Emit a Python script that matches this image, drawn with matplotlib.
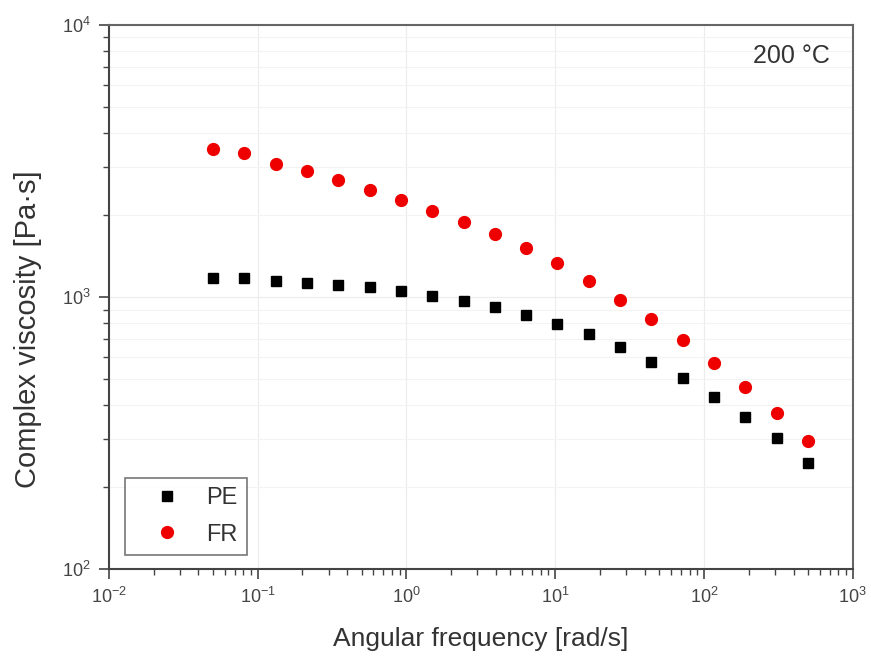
import numpy as np
import matplotlib.pyplot as plt
from matplotlib.ticker import LogLocator, NullFormatter

plt.rcParams['font.family'] = ['Liberation Sans', 'DejaVu Sans']
plt.rcParams['mathtext.fontset'] = 'custom'
plt.rcParams['mathtext.rm'] = 'Liberation Sans'
plt.rcParams['mathtext.it'] = 'Liberation Sans:italic'
plt.rcParams['mathtext.bf'] = 'Liberation Sans:bold'

# angular frequency [rad/s]
freq = [0.05, 0.081, 0.132, 0.214, 0.348, 0.565, 0.917, 1.49, 2.42, 3.93,
        6.37, 10.35, 16.8, 27.3, 44.3, 71.9, 117, 190, 308, 500]

# complex viscosity [Pa s]
pe = [1175, 1175, 1145, 1125, 1107, 1088, 1052, 1009, 967, 919,
      859, 796, 732, 655, 577, 504, 429, 362, 303, 245]
fr = [3500, 3383, 3081, 2906, 2692, 2473, 2273, 2071, 1888, 1706,
      1515, 1334, 1145, 975, 830, 695, 572, 467, 375, 296]

fig = plt.figure(figsize=(8.71, 6.58), dpi=100)
ax = fig.add_axes([0.125, 0.135, 0.854, 0.827])

ax.plot(freq, pe, 's', color='black', ms=7.5, label='PE', linestyle='none')
ax.plot(freq, fr, 'o', color='#ee0000', ms=8.5, label='FR', linestyle='none')

ax.set_xscale('log')
ax.set_yscale('log')
ax.set_xlim(1e-2, 1e3)
ax.set_ylim(1e2, 1e4)

ax.xaxis.set_minor_locator(LogLocator(base=10, subs=np.arange(2, 10)))
ax.yaxis.set_minor_locator(LogLocator(base=10, subs=np.arange(2, 10)))
ax.xaxis.set_minor_formatter(NullFormatter())
ax.yaxis.set_minor_formatter(NullFormatter())

ax.grid(True, which='major', color='#ececec', lw=0.8)
ax.grid(True, which='minor', axis='y', color='#f3f3f3', lw=0.8)
ax.set_axisbelow(True)

ax.tick_params(which='both', direction='out', top=False, right=False,
               labelsize=13, colors='#444444', labelcolor='#444444')
ax.tick_params(which='major', length=7, width=1.2, pad=6)
ax.tick_params(which='minor', length=4, width=1.0)

for s in ['left', 'bottom']:
    ax.spines[s].set_linewidth(1.5)
    ax.spines[s].set_color('#444444')
for s in ['top', 'right']:
    ax.spines[s].set_linewidth(1.5)
    ax.spines[s].set_color('#666666')

ax.set_xlabel('Angular frequency [rad/s]', fontsize=19, color='#333333', labelpad=14)
ax.set_ylabel('Complex viscosity [Pa·s]', fontsize=21, color='#333333')
ax.yaxis.set_label_coords(-0.09, 0.441)

ax.text(0.969, 0.943, '200 °C', transform=ax.transAxes, ha='right', va='center',
        fontsize=18, color='#333333')

leg = ax.legend(loc='lower left', fontsize=17, frameon=True, fancybox=False,
                edgecolor='#555555', borderpad=0.4, handletextpad=0.3,
                labelspacing=0.6, borderaxespad=0, handlelength=2.75,
                bbox_to_anchor=(0.0215, 0.026))
leg.get_frame().set_linewidth(1.2)
for t in leg.get_texts():
    t.set_color('#333333')

fig.savefig('out.png', dpi=100)
